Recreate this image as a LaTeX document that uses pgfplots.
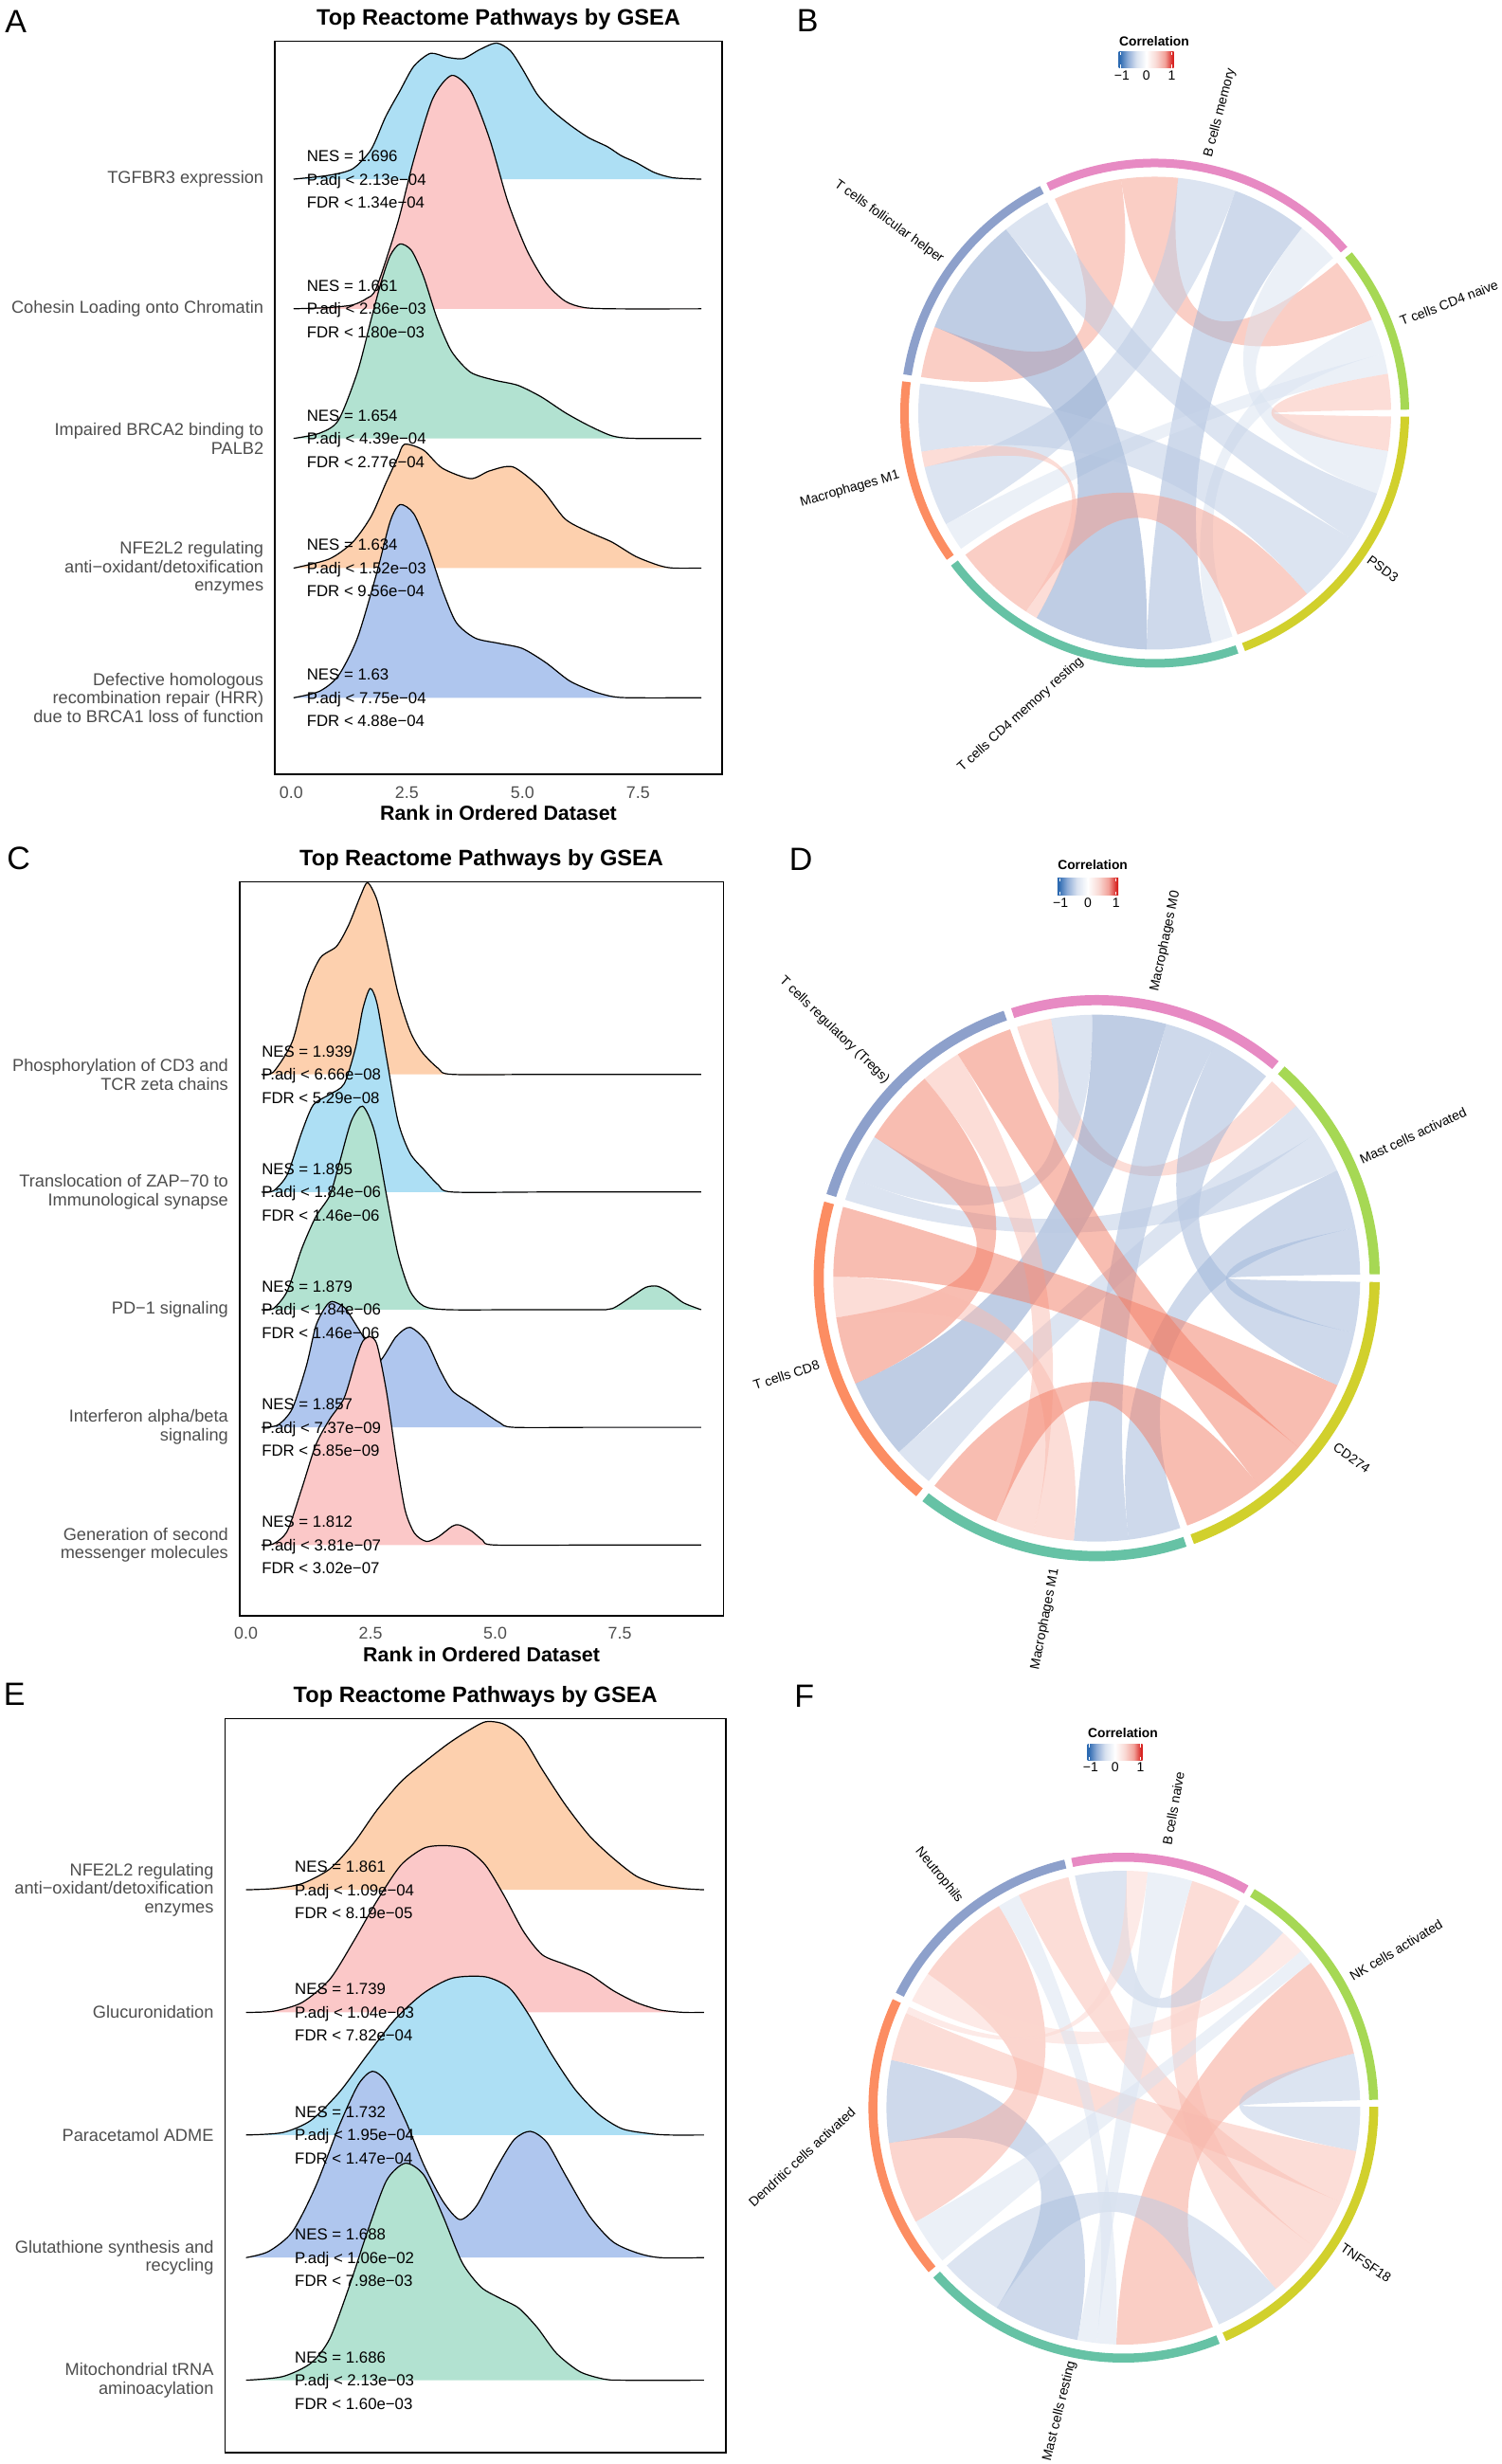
\documentclass[border=0pt]{standalone}
\usepackage{fontspec}
\setmainfont{Liberation Sans}
\usepackage{pgfplots}
\usepackage{pgfplotstable}
\pgfplotsset{compat=1.18}

\definecolor{gray30}{HTML}{4D4D4D}
\definecolor{rSky}{HTML}{ADDFF4}
\definecolor{rPink}{HTML}{FBC8C8}
\definecolor{rGreen}{HTML}{B2E2D1}
\definecolor{rOrange}{HTML}{FDD0AE}
\definecolor{rBlue}{HTML}{AFC6EE}
\definecolor{secPink}{HTML}{E78AC3}
\definecolor{secLime}{HTML}{A6D854}
\definecolor{secOlive}{HTML}{D1D02C}
\definecolor{secTeal}{HTML}{66C2A5}
\definecolor{secOrange}{HTML}{FC8D62}
\definecolor{secBlue}{HTML}{8DA0CB}
\definecolor{cR3}{HTML}{F27B63}
\definecolor{cR2}{HTML}{F69D8C}
\definecolor{cR15}{HTML}{F8AC9E}
\definecolor{cR1}{HTML}{F9BBAF}
\definecolor{cR0}{HTML}{FBD6CF}
\definecolor{cB3}{HTML}{809CC9}
\definecolor{cB2}{HTML}{9DB4D8}
\definecolor{cB1}{HTML}{BACAE3}
\definecolor{cB0}{HTML}{D8E2F0}
\definecolor{cbL}{HTML}{2C6AB1}
\definecolor{cbM}{HTML}{8EACD7}
\definecolor{cbW}{HTML}{D9E2F0}
\definecolor{crW}{HTML}{F9D9D4}
\definecolor{crM}{HTML}{F2A29A}
\definecolor{crR}{HTML}{D7201E}

\pgfdeclarehorizontalshading{corrbar}{100bp}{color(0bp)=(cbL); color(25bp)=(cbL); color(26bp)=(cbL); color(33bp)=(cbM); color(41bp)=(cbW); color(50bp)=(white); color(59bp)=(crW); color(67bp)=(crM); color(74bp)=(crR); color(75bp)=(crR); color(100bp)=(crR)}

\tikzset{
  R3/.style={fill=cR3, fill opacity=0.5}, R2/.style={fill=cR2, fill opacity=0.5},
  R15/.style={fill=cR15, fill opacity=0.5}, R1/.style={fill=cR1, fill opacity=0.5},
  R0/.style={fill=cR0, fill opacity=0.5},
  B3/.style={fill=cB3, fill opacity=0.5}, B2/.style={fill=cB2, fill opacity=0.5},
  B1/.style={fill=cB1, fill opacity=0.5}, B0/.style={fill=cB0, fill opacity=0.5},
  annot/.style={font=\fontsize{8.4}{10}\selectfont, anchor=base west, inner sep=0pt},
}

\pgfplotsset{
  ridgeaxis/.style={
    scale only axis, anchor=south west, clip=false,
    axis line style={black, line width=0.8pt},
    ytick={1,2,3,4,5},
    tick align=inside, major tick length=0pt,
    xtick style={draw=none}, ytick style={draw=none},
    xticklabel style={font=\fontsize{8.9}{11}\selectfont, text=gray30, anchor=base, yshift=-12.5pt},
    yticklabel style={font=\fontsize{9.1}{9.85}\selectfont, text=gray30, align=right, anchor=east, xshift=-2.4pt},
  },
  ridgefill/.style={draw=none, fill=#1, smooth, tension=0.45},
  ridgeline/.style={black, line width=0.6pt, smooth, tension=0.45},
  chordaxis/.style={hide axis, scale only axis, width=320pt, height=320pt,
    xmin=-320, xmax=320, ymin=-320, ymax=320, anchor=center, clip=false},
}

\newcommand{\ridge}[3]{%
  \addplot[ridgefill=#3] table[x=x, y expr=\thisrow{h}+#2]{#1};
  \addplot[ridgeline] table[x=x, y expr=\thisrow{h}+#2]{#1};}
\newcommand{\ann}[5]{%
  \node[annot, yshift=9.25pt] at (axis cs:#1,#2) {NES = #3};
  \node[annot, yshift=-3pt] at (axis cs:#1,#2) {P.adj < #4};
  \node[annot, yshift=-15.25pt] at (axis cs:#1,#2) {FDR < #5};}
\newcommand{\ptitle}{\node[font=\bfseries\fontsize{11.8}{14}\selectfont, anchor=base, yshift=8.4pt] at (rel axis cs:0.5,1) {Top Reactome Pathways by GSEA};}
\newcommand{\pxlabel}{\node[font=\bfseries\fontsize{10.7}{13}\selectfont, anchor=base, yshift=-24.2pt] at (rel axis cs:0.5,0) {Rank in Ordered Dataset};}

% chord geometry helpers (angles in degrees, radii in axis units)
\newcommand{\cp}[2]{(axis cs:{(#1)*cos(#2)},{(#1)*sin(#2)})}
\newcommand{\arcto}[3]{.. controls (axis cs:{(#1)*(cos(#2)-4/3*tan(((#3)-(#2))/4)*sin(#2))},{(#1)*(sin(#2)+4/3*tan(((#3)-(#2))/4)*cos(#2))}) and (axis cs:{(#1)*(cos(#3)+4/3*tan(((#3)-(#2))/4)*sin(#3))},{(#1)*(sin(#3)-4/3*tan(((#3)-(#2))/4)*cos(#3))}) .. \cp{#1}{#3}}
\newcommand{\toc}[3]{.. controls (axis cs:{(#1)/3*cos(#2)},{(#1)/3*sin(#2)}) and (axis cs:{(#1)/3*cos(#3)},{(#1)/3*sin(#3)}) .. \cp{#1}{#3}}
\newcommand{\lk}[5]{\fill[#5] \cp{\rc}{#1} \arcto{\rc}{#1}{#2} \toc{\rc}{#2}{#3} \arcto{\rc}{#3}{#4} \toc{\rc}{#4}{#1} -- cycle;}
\newcommand{\rg}[3]{\fill[#3] \cp{\ro}{#1} \arcto{\ro}{#1}{#2} -- \cp{\ri}{#2} \arcto{\ri}{#2}{#1} -- cycle;}
\newcommand{\lab}[5]{\node[font=\fontsize{7}{8.4}\selectfont, rotate=#3, anchor=#4, inner sep=0pt] at ({0.5pt*(#1)},{0.5pt*(2600-(#2))}) {#5};}
\newcommand{\letter}[3]{\node[font=\fontsize{17}{19}\selectfont, anchor=base west, inner sep=0pt] at ({0.5pt*(#1)},{0.5pt*(2600-(#2))}) {#3};}
\newcommand{\corrlegend}[6]{% left right top bottom titlebase labelbase
  \shade[shading=corrbar] ({0.5pt*(#1)},{0.5pt*(2600-(#3))}) rectangle ({0.5pt*(#2)},{0.5pt*(2600-(#4))});
  \foreach \tx in {#1+2.2,(#1+#2)/2,#2-2.2}{
    \draw[white, line width=0.5pt] ({0.5pt*(\tx)},{0.5pt*(2600-(#3))}) -- ++(0,-1.6pt);
    \draw[white, line width=0.5pt] ({0.5pt*(\tx)},{0.5pt*(2600-(#4))}) -- ++(0,1.6pt);}
  \node[font=\bfseries\fontsize{6.9}{8}\selectfont, anchor=base west, inner sep=0pt] at ({0.5pt*(#1)},{0.5pt*(2600-(#5))}) {Correlation};
  \node[font=\fontsize{7}{8}\selectfont, anchor=base, inner sep=0pt] at ({0.5pt*(#1+3.2)},{0.5pt*(2600-(#6))}) {−1};
  \node[font=\fontsize{7}{8}\selectfont, anchor=base, inner sep=0pt] at ({0.5pt*((#1+#2)/2)},{0.5pt*(2600-(#6))}) {0};
  \node[font=\fontsize{7}{8}\selectfont, anchor=base, inner sep=0pt] at ({0.5pt*(#2-2.2)},{0.5pt*(2600-(#6))}) {1};}

% ---------------- ridge data (x, height above baseline) ----------------
\pgfplotstableread{
x h
0.05 0
0.82 0.03
1.33 0.08
1.73 0.23
2.04 0.48
2.35 0.68
2.65 0.87
3.01 0.97
3.37 0.94
3.72 0.93
4.08 1.00
4.44 1.05
4.74 0.99
5.00 0.85
5.31 0.66
5.61 0.54
6.02 0.42
6.43 0.32
6.84 0.25
7.14 0.18
7.45 0.13
7.86 0.05
8.27 0.01
8.87 0
}\tAe
\pgfplotstableread{
x h
0.05 0
0.82 0.01
1.33 0.03
1.63 0.08
1.84 0.16
2.30 0.66
2.65 1.15
3.06 1.62
3.47 1.80
3.88 1.68
4.29 1.31
4.69 0.82
5.10 0.45
5.51 0.20
5.92 0.06
6.33 0.01
7.00 0
8.87 0
}\tAd
\pgfplotstableread{
x h
0.05 0
0.61 0.04
1.02 0.14
1.43 0.51
1.73 0.92
1.94 1.20
2.14 1.41
2.35 1.50
2.60 1.45
2.86 1.25
3.16 0.92
3.47 0.67
3.88 0.51
4.39 0.45
4.90 0.41
5.41 0.32
5.92 0.20
6.43 0.10
6.94 0.02
7.45 0
8.87 0
}\tAc
\pgfplotstableread{
x h
0.05 0
0.82 0.07
1.33 0.20
1.73 0.40
2.04 0.65
2.30 0.85
2.45 0.955
2.86 0.91
3.27 0.77
3.88 0.69
4.29 0.75
4.80 0.78
5.41 0.61
5.92 0.38
6.43 0.28
6.94 0.20
7.45 0.09
7.96 0.02
8.27 0
8.87 0
}\tAb
\pgfplotstableread{
x h
0.05 0
0.61 0.05
1.02 0.17
1.43 0.46
1.84 0.95
2.14 1.36
2.35 1.49
2.65 1.42
2.96 1.16
3.27 0.83
3.57 0.58
3.98 0.46
4.49 0.42
5.00 0.38
5.51 0.27
6.02 0.13
6.53 0.05
6.94 0.01
7.35 0
8.87 0
}\tAa

\pgfplotstableread{
x h
0.31 0
0.55 0.02
0.93 0.28
1.21 0.73
1.49 0.99
1.82 1.09
2.06 1.27
2.30 1.52
2.44 1.63
2.63 1.48
2.82 1.14
3.05 0.69
3.29 0.37
3.53 0.19
3.86 0.05
4.14 0
6.00 0
9.13 0
}\tCe
\pgfplotstableread{
x h
0.31 0
0.55 0.01
0.83 0.15
1.12 0.51
1.35 0.74
1.68 0.83
1.97 0.92
2.20 1.23
2.34 1.55
2.49 1.73
2.63 1.60
2.82 1.14
3.05 0.60
3.29 0.33
3.57 0.19
3.86 0.06
4.14 0
6.00 0
9.13 0
}\tCd
\pgfplotstableread{
x h
0.31 0
0.55 0.01
0.83 0.16
1.12 0.52
1.40 0.79
1.68 0.97
1.87 1.24
2.11 1.60
2.34 1.73
2.58 1.51
2.82 0.97
3.05 0.47
3.29 0.16
3.57 0.03
4.05 0
5.50 0
7.00 0
7.35 0.01
7.73 0.11
8.02 0.19
8.25 0.20
8.49 0.15
8.77 0.06
9.13 0
}\tCc
\pgfplotstableread{
x h
0.31 0
0.64 0.02
0.93 0.16
1.21 0.52
1.40 0.86
1.59 1.02
1.73 1.07
1.97 1.02
2.15 0.91
2.44 0.71
2.67 0.56
3.01 0.77
3.29 0.85
3.62 0.73
3.90 0.48
4.14 0.31
4.52 0.20
4.80 0.12
5.09 0.04
5.37 0
7.00 0
9.13 0
}\tCb
\pgfplotstableread{
x h
0.31 0
0.55 0.01
0.83 0.12
1.12 0.48
1.40 0.85
1.68 1.07
1.97 1.25
2.20 1.57
2.34 1.73
2.49 1.77
2.63 1.70
2.82 1.30
3.01 0.75
3.19 0.30
3.38 0.10
3.62 0.03
3.86 0.07
4.14 0.16
4.28 0.17
4.52 0.12
4.75 0.04
4.99 0
7.00 0
9.13 0
}\tCa

\pgfplotstableread{
x h
0 0
0.60 0.01
1.22 0.05
1.83 0.17
2.35 0.38
2.86 0.65
3.38 0.88
3.89 1.04
4.41 1.19
4.82 1.29
5.23 1.37
5.64 1.35
6.06 1.23
6.47 0.98
6.98 0.69
7.50 0.44
8.01 0.26
8.53 0.11
9.04 0.04
9.56 0.01
10 0
}\tEe
\pgfplotstableread{
x h
0 0
0.60 0.01
1.22 0.08
1.83 0.27
2.35 0.58
2.86 0.91
3.38 1.20
3.89 1.34
4.36 1.36
4.82 1.33
5.23 1.20
5.64 0.95
6.06 0.66
6.47 0.47
6.98 0.39
7.50 0.31
8.01 0.18
8.53 0.08
9.04 0.02
9.56 0
10 0
}\tEd
\pgfplotstableread{
x h
0 0
0.80 0.02
1.42 0.12
2.04 0.35
2.66 0.66
3.27 0.95
3.89 1.16
4.51 1.28
5.23 1.29
5.75 1.20
6.16 0.99
6.67 0.66
7.19 0.37
7.70 0.17
8.22 0.05
8.84 0.01
9.25 0
10 0
}\tEc
\pgfplotstableread{
x h
0 0
0.49 0.05
1.01 0.21
1.52 0.58
2.04 1.08
2.45 1.41
2.76 1.52
3.07 1.43
3.48 1.12
3.89 0.75
4.30 0.46
4.67 0.31
5.03 0.42
5.44 0.71
5.85 0.96
6.21 1.03
6.57 0.94
6.98 0.67
7.50 0.34
8.01 0.13
8.53 0.04
9.04 0
10 0
}\tEb
\pgfplotstableread{
x h
0 0
0.80 0.03
1.42 0.14
1.83 0.34
2.25 0.76
2.66 1.22
3.07 1.63
3.48 1.77
3.89 1.67
4.30 1.34
4.72 0.96
5.13 0.76
5.54 0.67
5.95 0.59
6.36 0.43
6.78 0.22
7.29 0.07
7.81 0.01
8.22 0
10 0
}\tEa

\begin{document}
\begin{tikzpicture}
\useasboundingbox (0,0) rectangle (792pt,1300pt);

% ================= Panel A =================
\begin{axis}[ridgeaxis, at={(145pt,891.35pt)}, width=236pt, height=386.9pt,
  xmin=-0.355, xmax=9.318, ymin=0.408, ymax=6.064,
  xtick={0,2.5,5,7.5}, xticklabels={0.0,2.5,5.0,7.5},
  yticklabels={{Defective homologous\\recombination repair (HRR)\\due to BRCA1 loss of function},
    {NFE2L2 regulating\\anti−oxidant/detoxification\\enzymes},
    {Impaired BRCA2 binding to\\PALB2},
    {Cohesin Loading onto Chromatin},
    {TGFBR3 expression}}]
\ridge{\tAe}{5}{rSky}
\ridge{\tAd}{4}{rPink}
\ridge{\tAc}{3}{rGreen}
\ridge{\tAb}{2}{rOrange}
\ridge{\tAa}{1}{rBlue}
\ann{0.33}{5}{1.696}{2.13e−04}{1.34e−04}
\ann{0.33}{4}{1.661}{2.86e−03}{1.80e−03}
\ann{0.33}{3}{1.654}{4.39e−04}{2.77e−04}
\ann{0.33}{2}{1.634}{1.52e−03}{9.56e−04}
\ann{0.33}{1}{1.63}{7.75e−04}{4.88e−04}
\ptitle
\pxlabel
\end{axis}

% ================= Panel C =================
\begin{axis}[ridgeaxis, at={(126.35pt,447.5pt)}, width=255.4pt, height=387.25pt,
  xmin=-0.131, xmax=9.58, ymin=0.398, ymax=6.637,
  xtick={0,2.5,5,7.5}, xticklabels={0.0,2.5,5.0,7.5},
  yticklabels={{Generation of second\\messenger molecules},
    {Interferon alpha/beta\\signaling},
    {PD−1 signaling},
    {Translocation of ZAP−70 to\\Immunological synapse},
    {Phosphorylation of CD3 and\\TCR zeta chains}}]
\ridge{\tCe}{5}{rOrange}
\ridge{\tCd}{4}{rSky}
\ridge{\tCc}{3}{rGreen}
\ridge{\tCb}{2}{rBlue}
\ridge{\tCa}{1}{rPink}
\ann{0.31}{5}{1.939}{6.66e−08}{5.29e−08}
\ann{0.31}{4}{1.895}{1.84e−06}{1.46e−06}
\ann{0.31}{3}{1.879}{1.84e−06}{1.46e−06}
\ann{0.31}{2}{1.857}{7.37e−09}{5.85e−09}
\ann{0.31}{1}{1.812}{3.81e−07}{3.02e−07}
\ptitle
\pxlabel
\end{axis}

% ================= Panel E =================
\begin{axis}[ridgeaxis, at={(118.65pt,6.15pt)}, width=264.35pt, height=387.05pt,
  xmin=-0.462, xmax=10.48, ymin=0.412, ymax=6.395,
  xtick=\empty,
  yticklabels={{Mitochondrial tRNA\\aminoacylation},
    {Glutathione synthesis and\\recycling},
    {Paracetamol ADME},
    {Glucuronidation},
    {NFE2L2 regulating\\anti−oxidant/detoxification\\enzymes}}]
\ridge{\tEe}{5}{rOrange}
\ridge{\tEd}{4}{rPink}
\ridge{\tEc}{3}{rSky}
\ridge{\tEb}{2}{rBlue}
\ridge{\tEa}{1}{rGreen}
\ann{1.06}{5}{1.861}{1.09e−04}{8.19e−05}
\ann{1.06}{4}{1.739}{1.04e−03}{7.82e−04}
\ann{1.06}{3}{1.732}{1.95e−04}{1.47e−04}
\ann{1.06}{2}{1.688}{1.06e−02}{7.98e−03}
\ann{1.06}{1}{1.686}{2.13e−03}{1.60e−03}
\ptitle
\end{axis}

% ================= Panel B (chord) =================
\def\rc{249.5}\def\ri{259.5}\def\ro{268.5}
\begin{axis}[chordaxis, at={(609.25pt,1082pt)}]
\addplot[draw=none] coordinates {(0,0)};
\rg{39.2}{0.8}{secLime}
\rg{115.2}{40.8}{secPink}
\rg{171.2}{116.8}{secBlue}
\rg{215.2}{172.8}{secOrange}
\rg{289.2}{216.8}{secTeal}
\rg{359.2}{290.8}{secOlive}
\lk{115}{98.2}{171.2}{158.6}{R2}
\lk{98.2}{84.3}{39.5}{23.3}{R2}
\lk{84.3}{70}{208}{193.2}{B1}
\lk{70}{51.5}{284}{268}{B2}
\lk{51.5}{41}{-9.2}{-19.9}{B0}
\lk{23.3}{14.6}{289.2}{284}{B0}
\lk{14.6}{9.6}{215}{208}{B0}
\lk{9.6}{0.8}{-0.8}{-9.2}{R1}
\lk{158.6}{129}{268}{240}{B3}
\lk{129}{117}{-19.9}{-32.6}{B1}
\lk{189.4}{172.8}{-32.6}{-49.9}{B1}
\lk{-49.9}{-69.5}{237}{216.8}{R2}
\lk{240}{237}{193.2}{189.4}{R1}
\end{axis}

% ================= Panel D (chord) =================
\def\rc{278}\def\ri{288}\def\ro{298.7}
\begin{axis}[chordaxis, at={(578.65pt,625.65pt)}]
\addplot[draw=none] coordinates {(0,0)};
\rg{48.4}{0.8}{secLime}
\rg{107.6}{50}{secPink}
\rg{162.7}{109.2}{secBlue}
\rg{230.4}{164.3}{secOrange}
\rg{288.5}{232}{secTeal}
\rg{359.2}{290.1}{secOlive}
\lk{107.6}{100}{48.3}{40.8}{R1}
\lk{100}{91}{157.7}{147.6}{B1}
\lk{91}{74.7}{221.3}{203.6}{B3}
\lk{74.7}{63.2}{277}{265}{B2}
\lk{63.2}{50}{-12}{-24}{B2}
\lk{40.8}{33.4}{230.4}{221.3}{B1}
\lk{33.4}{24.1}{162.7}{157.7}{B1}
\lk{24.1}{11}{288.5}{277}{B2}
\lk{11}{0.8}{-0.8}{-12}{B2}
\lk{147.6}{130.8}{203.6}{188.6}{R3}
\lk{130.8}{121.8}{256}{247.5}{R1}
\lk{121.8}{109.2}{-40}{-52}{R3}
\lk{188.6}{179.7}{265}{256}{R1}
\lk{179.7}{164.3}{-24}{-40}{R3}
\lk{247.5}{232}{-52}{-69.9}{R3}
\end{axis}

% ================= Panel F (chord) =================
\def\rc{250}\def\ri{259.5}\def\ro{269}
\begin{axis}[chordaxis, at={(592.7pt,188pt)}]
\addplot[draw=none] coordinates {(0,0)};
\rg{59}{1.8}{secLime}
\rg{101.8}{60.6}{secPink}
\rg{153.2}{103.4}{secBlue}
\rg{220.2}{154.8}{secOrange}
\rg{292.2}{221.8}{secTeal}
\rg{360.2}{293.8}{secOlive}
\lk{37.7}{13.2}{292.2}{268.3}{R2}
\lk{13.2}{1.8}{0.2}{-10.6}{B1}
\lk{-49.9}{-66.2}{237.7}{221.8}{B1}
\lk{188.6}{168.4}{258.8}{237.7}{B2}
\lk{208.8}{188.6}{145.6}{121.7}{R15}
\lk{168.4}{156.5}{-10.6}{-23.5}{R1}
\lk{116.2}{103.4}{-23.5}{-36.1}{R1}
\lk{73.1}{60.6}{-36.1}{-49.9}{R1}
\lk{101.8}{89.2}{59}{47.6}{B1}
\lk{47.6}{41.4}{153.2}{145.6}{R0}
\lk{41.4}{37.7}{220.2}{208.8}{B0}
\lk{121.7}{116.2}{268.3}{263.5}{B0}
\lk{84.1}{73.1}{263.5}{258.8}{B0}
\lk{89.2}{84.1}{156.5}{154.8}{R0}
\end{axis}

% ---------------- chord labels ----------------
\lab{1274.9}{165.6}{75}{west}{B cells memory}
\lab{1477.4}{339.5}{21}{west}{T cells CD4 naive}
\lab{1444.1}{589.3}{-36}{west}{PSD3}
\lab{1141.5}{695.9}{42}{east}{T cells CD4 memory resting}
\lab{949.2}{501.1}{16}{east}{Macrophages M1}
\lab{994.4}{275}{-36}{east}{T cells follicular helper}

\lab{1218.4}{1046.5}{78}{west}{Macrophages M0}
\lab{1435.4}{1224.4}{25}{west}{Mast cells activated}
\lab{1408.2}{1525.8}{-35}{west}{CD274}
\lab{1113.3}{1654.9}{79}{east}{Macrophages M1}
\lab{864.6}{1439.7}{18}{east}{T cells CD8}
\lab{936.4}{1141.2}{-44}{east}{T cells regulatory (Tregs)}

\lab{1231.3}{1947.5}{80}{west}{B cells naive}
\lab{1425.1}{2086.8}{31}{west}{NK cells activated}
\lab{1415.9}{2370.7}{-34}{west}{TNFSF18}
\lab{1131.3}{2491.2}{76}{east}{Mast cells resting}
\lab{900.5}{2226}{42.7}{east}{Dendritic cells activated}
\lab{1013.3}{2006.4}{-51}{east}{Neutrophils}

% ---------------- colour legends ----------------
\corrlegend{1180.7}{1238.7}{55}{71.7}{48.3}{85}
\corrlegend{1115.9}{1180}{927}{944.3}{917.7}{957.5}
\corrlegend{1147.7}{1205.6}{1840.4}{1857.5}{1833.6}{1869.5}

% ---------------- panel letters ----------------
\letter{5}{34.8}{A}
\letter{840.5}{33.7}{B}
\letter{7}{918}{C}
\letter{832.5}{919}{D}
\letter{3.5}{1800}{E}
\letter{838}{1801.8}{F}
\end{tikzpicture}
\end{document}
